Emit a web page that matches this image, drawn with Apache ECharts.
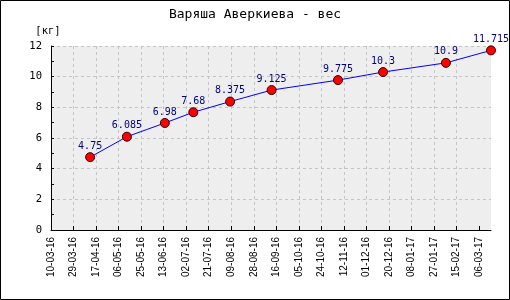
<!DOCTYPE html>
<html><head><meta charset="utf-8">
<script src="https://cdn.jsdelivr.net/npm/echarts@6/dist/echarts.min.js"></script>
<style>html,body{margin:0;padding:0;background:#fff}#c{width:510px;height:300px}</style>
</head><body><div id="c"></div>
<script>
const titleText = 'Варяша Аверкиева - вес';
const yName = '[кг]';
const dates = ['2016-04-12','2016-05-13','2016-06-14','2016-07-08','2016-08-08','2016-09-12','2016-11-07','2016-12-15','2017-02-06','2017-03-16'];
const weights = [4.75, 6.085, 6.98, 7.68, 8.375, 9.125, 9.775, 10.3, 10.9, 11.715];
const weightLabels = ['4.75','6.085','6.98','7.68','8.375','9.125','9.775','10.3','10.9','11.715'];
const axisStart = '2016-03-10';
const axisEnd = '2017-03-16';
const tickStepDays = 19;
const yTicks = [0, 2, 4, 6, 8, 10, 12];

const DAY = 86400000;
const t0 = Date.parse(axisStart + 'T00:00:00Z');
const toDay = s => Math.round((Date.parse(s + 'T00:00:00Z') - t0) / DAY);
const maxDay = toDay(axisEnd);
const fmt = d => {
  const dt = new Date(t0 + d * DAY);
  const p = n => String(n).padStart(2, '0');
  return p(dt.getUTCDate()) + '-' + p(dt.getUTCMonth() + 1) + '-' + p(dt.getUTCFullYear() % 100);
};
const tickDays = [];
for (let d = 0; d <= maxDay; d += tickStepDays) tickDays.push(d);

const data = dates.map((d, i) => [toDay(d), weights[i], weightLabels[i]]);
const MONO = 'DejaVu Sans Mono';

const chart = echarts.init(document.getElementById('c'), null, {renderer: 'canvas'});
chart.setOption({
  animation: false,
  backgroundColor: '#fff',
  title: {
    text: titleText, left: 'center', top: 3,
    textStyle: {fontFamily: MONO, fontSize: 13, fontWeight: 'normal', color: '#000'}
  },
  graphic: [{type: 'rect', shape: {x: 0.5, y: 0.5, width: 509, height: 299},
    style: {fill: null, stroke: '#000', lineWidth: 1}, silent: true}],
  grid: {left: 51, right: 19, top: 46, bottom: 70, show: true, backgroundColor: '#eeeeee', borderWidth: 0},
  xAxis: {
    type: 'value', min: 0, max: maxDay, interval: tickStepDays,
    axisLine: {show: true, onZero: false, lineStyle: {color: '#000', width: 1}},
    axisTick: {show: true, inside: true, length: 4, customValues: tickDays, lineStyle: {color: '#000'}},
    axisLabel: {rotate: 90, margin: 7, fontFamily: 'Liberation Sans', fontSize: 10, color: '#000',
      customValues: tickDays, formatter: v => fmt(v)},
    splitLine: {show: true, showMinLine: false, showMaxLine: false, lineStyle: {color: '#c4c4c4', type: [3, 3], width: 1}}
  },
  yAxis: {
    type: 'value', min: 0, max: 12, interval: 2,
    name: yName, nameLocation: 'end', nameGap: 9,
    nameTextStyle: {fontFamily: MONO, fontSize: 10.5, color: '#000', align: 'center', padding: [0, 0, 0, -6]},
    axisLine: {show: true, lineStyle: {color: '#000', width: 1}},
    axisTick: {show: true, inside: true, length: 3, lineStyle: {color: '#000'}},
    minorTick: {show: true, splitNumber: 2, length: 3, lineStyle: {color: '#000'}},
    axisLabel: {margin: 9, fontFamily: MONO, fontSize: 10.5, color: '#000',
      customValues: yTicks},
    splitLine: {show: true, lineStyle: {color: '#c4c4c4', type: [3, 3], width: 1}}
  },
  series: [{
    type: 'line', data: data,
    lineStyle: {color: '#0000ff', width: 1},
    symbol: 'circle', symbolSize: 9,
    itemStyle: {color: '#ff0000', borderColor: '#300000', borderWidth: 1},
    label: {show: true, position: 'top', distance: 1, fontFamily: MONO, fontSize: 10, color: '#000080',
      formatter: p => p.data[2]},
    clip: false
  }]
});
</script></body></html>
